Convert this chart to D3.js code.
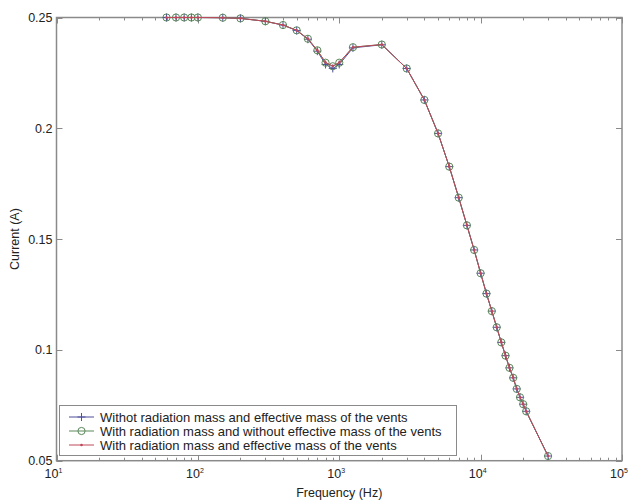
<!doctype html>
<meta charset="UTF-8">
<html>
<head>
<script src="https://d3js.org/d3.v7.min.js"></script>
<style>
  body { margin: 0; background: #fff; }
  text { font-family: "Liberation Sans", Arial, sans-serif; fill: #222; }
</style>
</head>
<body>
<script>
// frequencies (Hz) and currents (A)
const freq = [60, 70, 80, 90, 100, 150, 200, 300, 400, 500, 600, 700, 800, 900, 1000, 1250,
  2000, 3000, 4000, 5000, 6000, 7000, 8000, 9000, 10000, 11000, 12000, 13000, 14000,
  15000, 16000, 17000, 18000, 19000, 20000, 21000, 30000]
const withoutBoth = [0.2500, 0.2500, 0.2500, 0.2500, 0.2500, 0.2499, 0.2496, 0.2483, 0.2466, 0.2441,
  0.2402, 0.2348, 0.2288, 0.2270, 0.2288, 0.2363,
  0.2377, 0.2270, 0.2128, 0.1977, 0.1827, 0.1687, 0.1562, 0.1451, 0.1346, 0.1254, 0.1175, 0.1102, 0.1034,
  0.0974, 0.0919, 0.0874, 0.0824, 0.0786, 0.0755, 0.0723, 0.0521]
const withRadNoEff = [0.2500, 0.2500, 0.2500, 0.2500, 0.2500, 0.2499, 0.2496, 0.2483, 0.2466, 0.2442,
  0.2404, 0.2352, 0.2296, 0.2280, 0.2296, 0.2366,
  0.2378, 0.2270, 0.2128, 0.1977, 0.1827, 0.1687, 0.1562, 0.1451, 0.1346, 0.1254, 0.1175, 0.1102, 0.1034,
  0.0974, 0.0919, 0.0874, 0.0824, 0.0786, 0.0755, 0.0723, 0.0521]
const withBoth = [0.2500, 0.2500, 0.2500, 0.2500, 0.2500, 0.2499, 0.2496, 0.2483, 0.2466, 0.2442,
  0.2404, 0.2352, 0.2297, 0.2281, 0.2297, 0.2366,
  0.2378, 0.2270, 0.2128, 0.1977, 0.1827, 0.1687, 0.1562, 0.1451, 0.1346, 0.1254, 0.1175, 0.1102, 0.1034,
  0.0974, 0.0919, 0.0874, 0.0824, 0.0786, 0.0755, 0.0723, 0.0521]
const yTicks = [0.05, 0.1, 0.15, 0.2, 0.25]
const xDecades = [1, 2, 3, 4, 5]
const legendLabels = ["Withot radiation mass and effective mass of the vents",
  "With radiation mass and without effective mass of the vents",
  "With radiation mass and effective mass of the vents"]

const width = 629, height = 502
const pLeft = 56.5, pRight = 622, pTop = 17.5, pBottom = 460.7
const axisColor = "#8a8a8a"

const svg = d3.select("body").append("svg")
  .attr("width", width).attr("height", height)

const x = d3.scaleLog().domain([10, 100000]).range([pLeft, pRight])
const y = d3.scaleLinear().domain([0.05, 0.25]).range([pBottom, pTop])

// minor + major ticks on all four sides
const allX = x.ticks()
const isMajor = v => Math.abs(Math.log10(v) - Math.round(Math.log10(v))) < 1e-9
const tg = svg.append("g").attr("stroke", axisColor).attr("stroke-width", 1)
allX.forEach(v => {
  const len = isMajor(v) ? 6 : 3
  const px = Math.round(x(v)) + 0.5
  tg.append("line").attr("x1", px).attr("x2", px).attr("y1", pBottom).attr("y2", pBottom - len)
  tg.append("line").attr("x1", px).attr("x2", px).attr("y1", pTop).attr("y2", pTop + len)
})
yTicks.forEach(v => {
  const py = Math.round(y(v)) + 0.5
  tg.append("line").attr("x1", pLeft).attr("x2", pLeft + 6).attr("y1", py).attr("y2", py)
  tg.append("line").attr("x1", pRight).attr("x2", pRight - 6).attr("y1", py).attr("y2", py)
})

svg.append("rect")
  .attr("x", pLeft).attr("y", pTop)
  .attr("width", pRight - pLeft).attr("height", pBottom - pTop)
  .attr("fill", "none").attr("stroke", axisColor).attr("stroke-width", 1.5)

// tick labels
svg.selectAll(".ylab").data(yTicks).enter().append("text")
  .attr("class", "ylab")
  .attr("x", pLeft - 4).attr("y", d => y(d) + 4.5)
  .attr("text-anchor", "end").style("font-size", "12.5px")
  .text(d => d)

const xl = svg.selectAll(".xlab").data(xDecades).enter().append("text")
  .attr("class", "xlab")
  .attr("x", d => x(Math.pow(10, d)) - 3).attr("y", pBottom + 17)
  .attr("text-anchor", "middle").style("font-size", "12.5px")
xl.append("tspan").text("10")
xl.append("tspan").attr("dy", -5).style("font-size", "7px").text(d => d)

svg.append("text")
  .attr("x", (pLeft + pRight) / 2).attr("y", 497)
  .attr("text-anchor", "middle").style("font-size", "12.5px")
  .text("Frequency (Hz)")

svg.append("text")
  .attr("transform", "translate(19," + ((pTop + pBottom) / 2) + ")rotate(-90)")
  .attr("text-anchor", "middle").style("font-size", "12.5px")
  .text("Current (A)")

// series
const series = [
  { name: legendLabels[0], values: withoutBoth, color: "#4f4f9c", marker: "plus" },
  { name: legendLabels[1], values: withRadNoEff, color: "#5a875a", marker: "circle" },
  { name: legendLabels[2], values: withBoth, color: "#c0485a", marker: "dot" }
]

const line = d3.line().x(d => x(d[0])).y(d => y(d[1]))

drawMarker = function(g, cx, cy, s) {
  if (s.marker == "plus") {
    g.append("path").attr("d", "M" + (cx - 4) + "," + cy + "H" + (cx + 4) + "M" + cx + "," + (cy - 4) + "V" + (cy + 4))
      .attr("stroke", s.color).attr("stroke-width", 1).attr("fill", "none")
  } else if (s.marker == "circle") {
    g.append("circle").attr("cx", cx).attr("cy", cy).attr("r", 3.6)
      .attr("stroke", s.color).attr("stroke-width", 1).attr("fill", "none")
  } else {
    g.append("circle").attr("cx", cx).attr("cy", cy).attr("r", 1.3).attr("fill", s.color)
  }
}

series.forEach(s => {
  const pts = freq.map((f, i) => [f, s.values[i]])
  const g = svg.append("g")
  g.append("path").datum(pts).attr("d", line)
    .attr("fill", "none").attr("stroke", s.color).attr("stroke-width", 1)
  pts.forEach(p => drawMarker(g, x(p[0]), y(p[1]), s))
})

// legend
const lg = svg.append("g")
lg.append("rect").attr("x", 59.5).attr("y", 405.5).attr("width", 397).attr("height", 50)
  .attr("fill", "#fff").attr("stroke", axisColor).attr("stroke-width", 1)
series.forEach((s, i) => {
  const ly = 417 + i * 14
  lg.append("line").attr("x1", 69).attr("x2", 94).attr("y1", ly).attr("y2", ly)
    .attr("stroke", s.color).attr("stroke-width", 1)
  drawMarker(lg, 81.5, ly, s)
  lg.append("text").attr("x", 100).attr("y", ly + 4.5)
    .style("font-size", "13px").text(s.name)
})
</script>
</body>
</html>
